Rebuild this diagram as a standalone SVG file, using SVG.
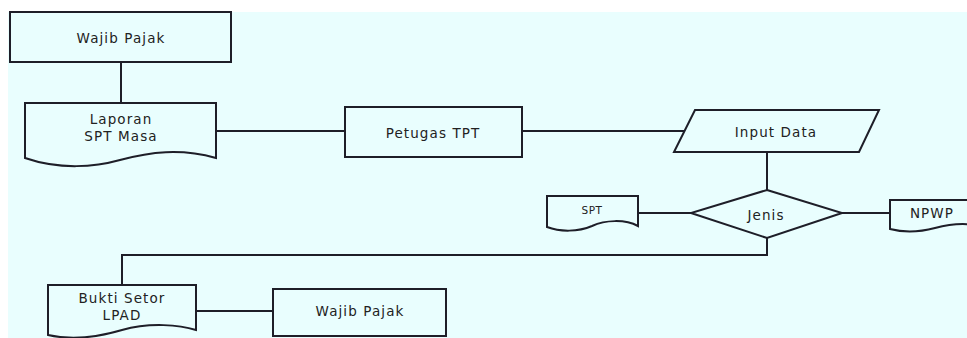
<svg xmlns="http://www.w3.org/2000/svg" width="967" height="338" viewBox="0 0 967 338">
<style>
.s{fill:#e9fefe;stroke:#1e1e28;stroke-width:2;stroke-linejoin:miter}
.c{fill:none;stroke:#1e1e28;stroke-width:2}
.t{font-family:"DejaVu Sans",Verdana,sans-serif;font-size:13.5px;letter-spacing:1.1px;fill:#222;text-anchor:middle}
.sm{font-size:10.5px;letter-spacing:0.5px}
</style>
<rect x="0" y="0" width="967" height="338" fill="#ffffff"/>
<rect x="8" y="12" width="959" height="326" fill="#e9fefe"/>
<g id="connectors">
<line class="c" x1="121" y1="62" x2="121" y2="103"/>
<line class="c" x1="216" y1="131" x2="345" y2="131"/>
<line class="c" x1="522" y1="131" x2="685" y2="131"/>
<line class="c" x1="767" y1="152" x2="767" y2="190"/>
<line class="c" x1="638" y1="213" x2="691" y2="213"/>
<line class="c" x1="842" y1="213" x2="890" y2="213"/>
<polyline class="c" points="767,238 767,255 122,255 122,285"/>
<line class="c" x1="196" y1="311" x2="273" y2="311"/>
</g>
<g id="wajib-pajak-1">
<rect class="s" x="10" y="12" width="221" height="50"/>
<text class="t" x="121" y="42.5">Wajib Pajak</text>
</g>
<g id="laporan-spt-masa">
<path class="s" d="M25,103 H216 V158 C180,148 150,152 120,160 C95,167 60,170 25,158 Z"/>
<text class="t" x="121" y="124">Laporan</text>
<text class="t" x="121" y="140.5">SPT Masa</text>
</g>
<g id="petugas-tpt">
<rect class="s" x="345" y="107" width="177" height="50"/>
<text class="t" x="433" y="138">Petugas TPT</text>
</g>
<g id="input-data">
<polygon class="s" points="695,110 879,110 859,152 674,152"/>
<text class="t" x="776" y="137">Input Data</text>
</g>
<g id="jenis">
<polygon class="s" points="767,190 842,213 767,238 691,213"/>
<text class="t" x="766" y="220">Jenis</text>
</g>
<g id="spt">
<path class="s" d="M547,196 H638 V226 C625,219 605,220 592,226 C578,232 560,232 547,227 Z"/>
<text class="t sm" x="592" y="213.5">SPT</text>
</g>
<g id="npwp">
<path class="s" d="M995,200 H890 V229 C905,233 920,232 935,228 C950,224 962,223 975,225 L995,228 Z"/>
<text class="t" x="932" y="217.5">NPWP</text>
</g>
<g id="bukti-setor-lpad">
<path class="s" d="M48,285 H196 V330 C180,325 150,322 122,330 C95,338 70,340 48,335 Z"/>
<text class="t" x="122" y="303">Bukti Setor</text>
<text class="t" x="122" y="319.5">LPAD</text>
</g>
<g id="wajib-pajak-2">
<rect class="s" x="273" y="289" width="173" height="47"/>
<text class="t" x="360" y="316">Wajib Pajak</text>
</g>
</svg>
